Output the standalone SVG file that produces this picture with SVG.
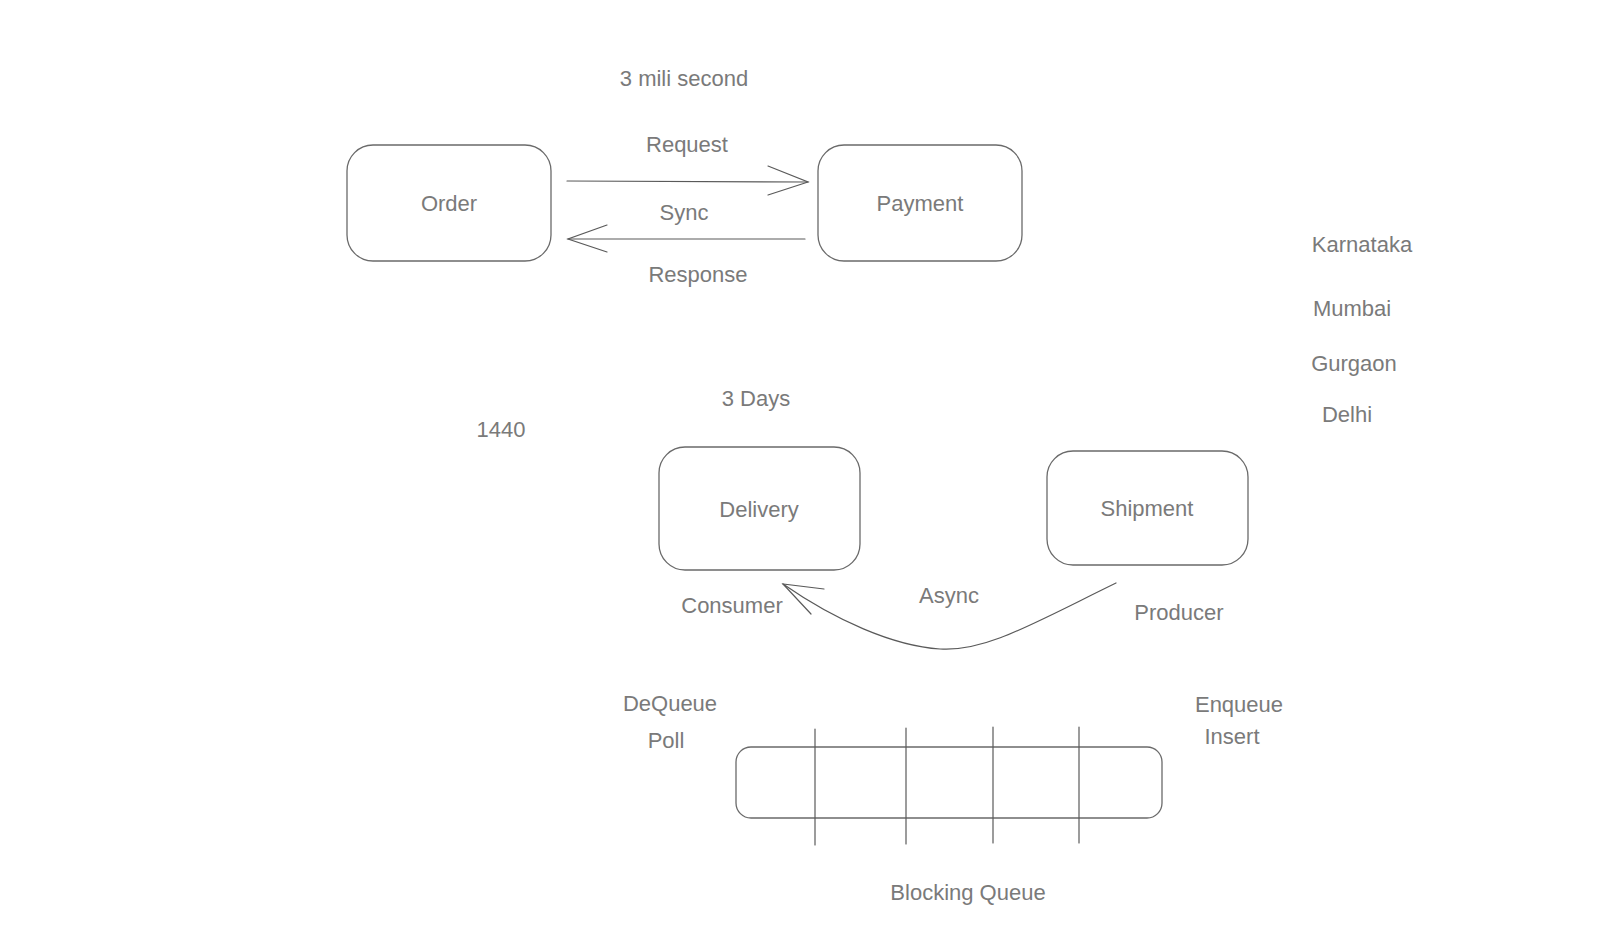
<svg xmlns="http://www.w3.org/2000/svg" width="1600" height="949" viewBox="0 0 1600 949">
<style>
  .box{fill:none;stroke:#6a6a6a;stroke-width:1.3}
  .ln{fill:none;stroke:#5a5a5a;stroke-width:1.2;stroke-linecap:round}
  text{font-family:"Liberation Sans",Arial,sans-serif;font-size:22px;fill:#7a7a7a;text-anchor:middle}
</style>
<rect width="1600" height="949" fill="#fff"/>
<g id="order"><rect class="box" x="347" y="145" width="204" height="116" rx="26"/><text x="449" y="211">Order</text></g>
<g id="payment"><rect class="box" x="818" y="145" width="204" height="116" rx="26"/><text x="920" y="211">Payment</text></g>
<g id="delivery"><rect class="box" x="659" y="447" width="201" height="123" rx="26"/><text x="759" y="517">Delivery</text></g>
<g id="shipment"><rect class="box" x="1047" y="451" width="201" height="114" rx="26"/><text x="1147" y="516">Shipment</text></g>
<g id="queue">
  <rect class="box" x="736" y="747" width="426" height="71" rx="15"/>
  <line class="ln" x1="815" y1="729" x2="815" y2="845"/>
  <line class="ln" x1="906" y1="728" x2="906" y2="844"/>
  <line class="ln" x1="993" y1="727" x2="993" y2="843"/>
  <line class="ln" x1="1079" y1="727" x2="1079" y2="843"/>
</g>
<g id="connectors">
  <line class="ln" x1="567" y1="181" x2="808" y2="182"/>
  <polyline class="ln" points="768,166 808,182 768,195"/>
  <line class="ln" x1="805" y1="239" x2="568" y2="239"/>
  <polyline class="ln" points="607,225 568,239 607,252"/>
  <path class="ln" d="M1116,583 C1030,625 985,652 940,649 C893,646 835,620 783,584"/>
  <polyline class="ln" points="824,589 783,584 811,614"/>
</g>
<g id="labels">
  <text x="684" y="86">3 mili second</text>
  <text x="687" y="152">Request</text>
  <text x="684" y="220">Sync</text>
  <text x="698" y="282">Response</text>
  <text x="1362" y="252">Karnataka</text>
  <text x="1352" y="316">Mumbai</text>
  <text x="1354" y="371">Gurgaon</text>
  <text x="1347" y="422">Delhi</text>
  <text x="756" y="406">3 Days</text>
  <text x="501" y="437">1440</text>
  <text x="949" y="603">Async</text>
  <text x="732" y="613">Consumer</text>
  <text x="1179" y="620">Producer</text>
  <text x="670" y="711">DeQueue</text>
  <text x="666" y="748">Poll</text>
  <text x="1239" y="712">Enqueue</text>
  <text x="1232" y="744">Insert</text>
  <text x="968" y="900">Blocking Queue</text>
</g>
</svg>
